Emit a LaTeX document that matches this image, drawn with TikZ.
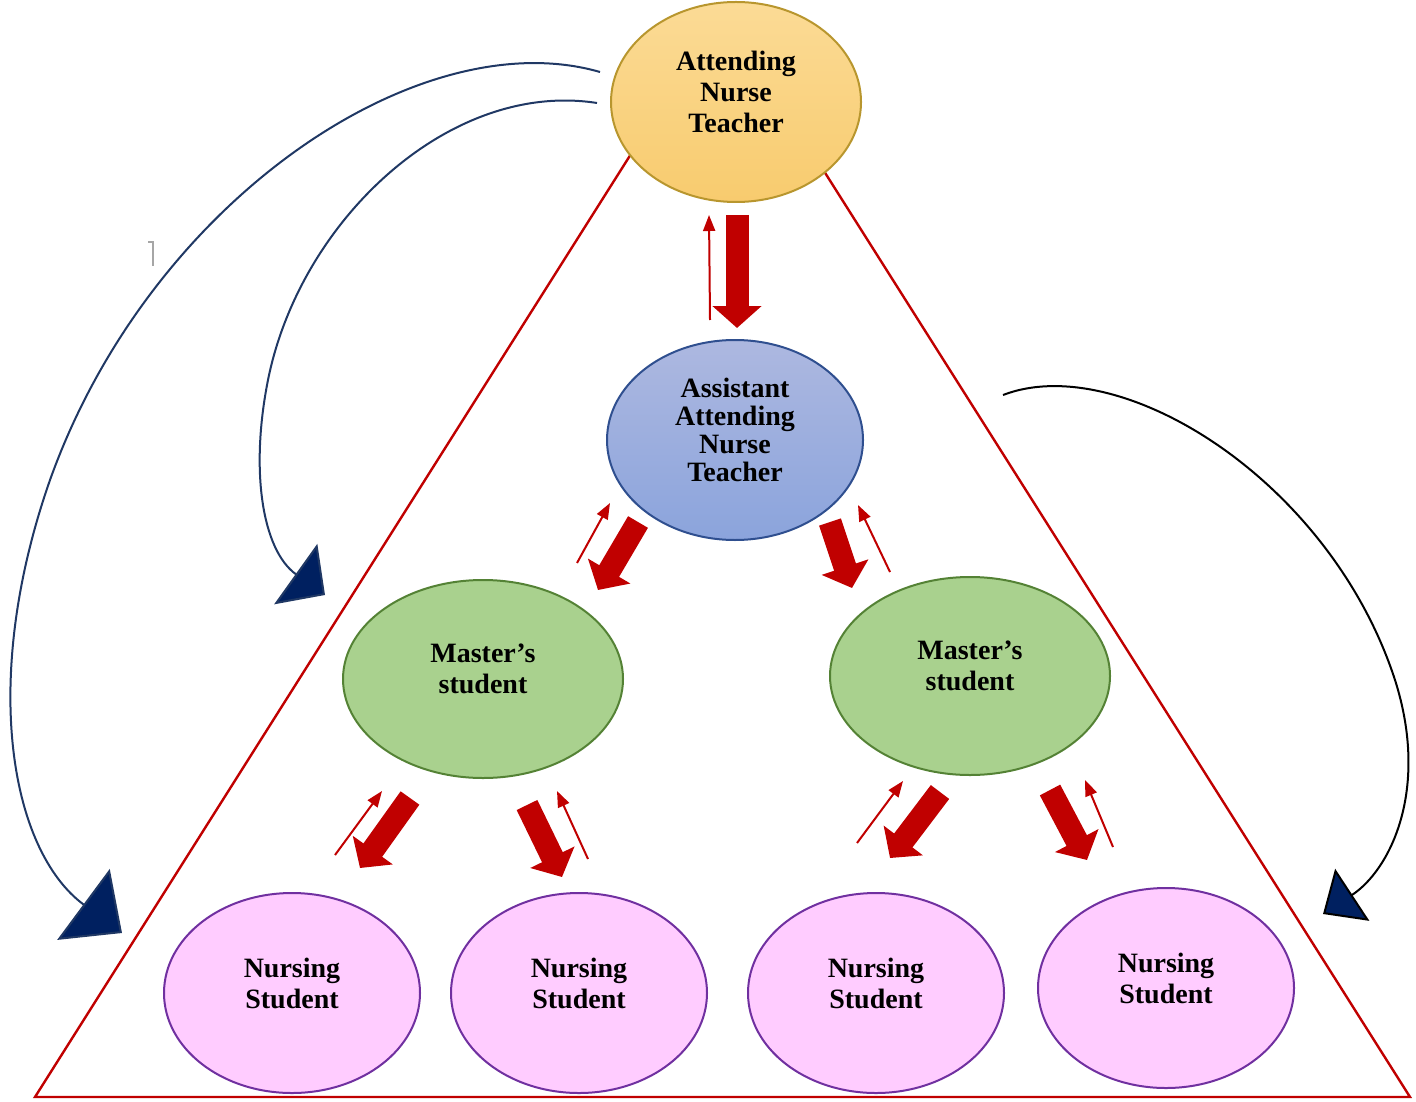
\documentclass[tikz,border=0pt]{standalone}
\usepackage{fontspec}
\setmainfont{Liberation Serif}
\usetikzlibrary{shapes.geometric, arrows.meta, calc}

\definecolor{redline}{HTML}{C00000}
\definecolor{navyline}{HTML}{203864}
\definecolor{navytip}{HTML}{002060}
\definecolor{attTop}{HTML}{FBDB96}
\definecolor{attBot}{HTML}{F8CB6E}
\definecolor{attLine}{HTML}{B8962E}
\definecolor{asTop}{HTML}{ADB8E0}
\definecolor{asBot}{HTML}{8BA4DC}
\definecolor{asLine}{HTML}{2F4F8F}
\definecolor{msFill}{HTML}{A9D18E}
\definecolor{msLine}{HTML}{548235}
\definecolor{nsFill}{HTML}{FFCCFF}
\definecolor{nsLine}{HTML}{7030A0}

\tikzset{
  bubble/.style={ellipse, draw, line width=1pt, inner sep=0pt},
  lbl/.style={align=center, yshift=5pt, font=\fontsize{14}{15.5}\selectfont\bfseries},
  master/.style={bubble, fill=msFill, draw=msLine, minimum width=140pt, minimum height=99pt},
  student/.style={bubble, fill=nsFill, draw=nsLine, minimum width=128pt, minimum height=100pt},
  fat/.style={draw=redline, line width=11.5pt, -{Triangle[length=11pt, width=24pt]}},
  slim/.style={draw=redline, line width=1pt, -{Triangle[length=8pt, width=6pt]}},
}

\begin{document}
\begin{tikzpicture}[x=0.5pt, y=-0.5pt]
  \useasboundingbox (0,0) rectangle (1416,1101);

  % the big triangle
  \draw[redline, line width=1.2pt] (35,1097) -- (722,10) -- (1410,1097) -- cycle;

  \node[bubble, top color=attTop, bottom color=attBot, draw=attLine,
        minimum width=125pt, minimum height=100pt,
        label={[lbl]center:{Attending\\Nurse\\Teacher}}] (attending) at (736,102) {};
  \node[bubble, top color=asTop, bottom color=asBot, draw=asLine,
        minimum width=128pt, minimum height=100pt,
        label={[lbl, font=\fontsize{14}{14}\selectfont\bfseries]center:{Assistant\\Attending\\Nurse\\Teacher}}] (assistant) at (735,440) {};
  \node[master, label={[lbl]center:{Master’s\\student}}] (masterL) at (483,679) {};
  \node[master, label={[lbl]center:{Master’s\\student}}] (masterR) at (970,676) {};
  \foreach \n/\x/\y in {1/292/993, 2/579/993, 3/876/993, 4/1166/988}
    \node[student, label={[lbl]center:{Nursing\\Student}}] (nurse\n) at (\x,\y) {};

  % downward (fat) and upward (slim) arrows
  \foreach \s/\sx/\sy/\t/\tx/\ty in {attending/1/113/assistant/2/-112,
      assistant/-97/82/masterL/115/-89, assistant/95/82/masterR/-118/-88,
      masterL/-73/119/nurse1/68/-125, masterL/44/126/nurse2/-17/-116,
      masterR/-30/116/nurse3/14/-135, masterR/80/114/nurse4/-79/-128}
    \draw[fat] ($(\s)+(\sx,\sy)$) -- ($(\t)+(\tx,\ty)$);
  \foreach \s/\sx/\sy/\t/\tx/\ty in {assistant/-25/-120/attending/-27/113,
      masterL/94/-116/assistant/-125/63, masterR/-80/-104/assistant/123/65,
      nurse1/43/-138/masterL/-101/112, nurse2/9/-134/masterL/74/112,
      nurse3/-19/-150/masterR/-67/105, nurse4/-53/-141/masterR/115/104}
    \draw[slim] ($(\s)+(\sx,\sy)$) -- ($(\t)+(\tx,\ty)$);

  % curved arrows
  \coordinate (tipA) at (122,933);
  \coordinate (tipB) at (325,595);
  \coordinate (startC) at (1003,395);
  \coordinate (tipC) at (1323,914);
  \draw[navyline, line width=1pt, -{Triangle[length=24pt, width=44pt, fill=navytip]}]
    ($(attending)+(-136,-30)$) .. controls (420,20) and (150,200) .. (50,480)
    .. controls (-20,680) and (10,850) .. (tipA);
  \draw[navyline, line width=1pt, -{Triangle[length=18pt, width=37pt, fill=navytip]}]
    ($(attending)+(-139,1)$) .. controls (450,80) and (300,220) .. (268,380)
    .. controls (250,470) and (262,550) .. (tipB);
  \draw[black, line width=1pt, -{Triangle[length=17.5pt, width=31pt, fill=navytip]}]
    (startC) .. controls (1120,350) and (1330,480) .. (1395,680)
    .. controls (1430,790) and (1390,870) .. (tipC);

  \draw[gray!70, line width=0.8pt] (148,242) -- (153,242) -- (153,266);
\end{tikzpicture}
\end{document}
